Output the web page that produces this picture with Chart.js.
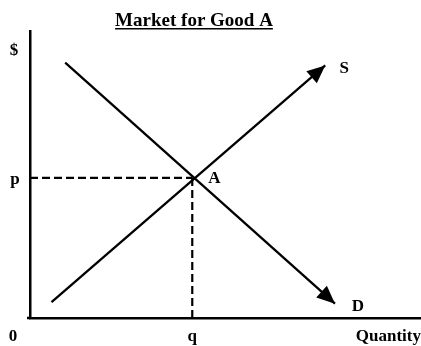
<!DOCTYPE html>
<html>
<head>
<meta charset="utf-8">
<script src="https://cdn.jsdelivr.net/npm/chart.js@4/dist/chart.umd.min.js"></script>
<style>
  html, body { margin: 0; padding: 0; background: #fff; }
  #wrap { width: 421px; height: 346px; position: relative; }
</style>
</head>
<body>
<div id="wrap"><canvas id="c" width="421" height="346"></canvas></div>
<script>
// ---- data (quantity on x, price on y; arbitrary units 0..10) ----
const titleText = 'Market for Good A';
const supplyQ = [0.55, 7.55];
const supplyP = [0.55, 8.8];
const demandQ = [0.9, 7.8];
const demandP = [8.9, 0.5];
const eqQ = [4.15];
const eqP = [4.88];
const axisLabels = { price: '$', quantity: 'Quantity', origin: '0', eqPrice: 'p', eqQuantity: 'q', eqPoint: 'A', supply: 'S', demand: 'D' };

const FONT = 'bold 17px "Liberation Serif", "Times New Roman", serif';

function pts(xs, ys) { return xs.map((v, i) => ({ x: v, y: ys[i] })); }

function drawArrow(ctx, x1, y1, x2, y2) {
  const dx = x2 - x1, dy = y2 - y1, len = Math.hypot(dx, dy);
  const ux = dx / len, uy = dy / len;
  const L = 18, W = 8;
  const bx = x2 - ux * L, by = y2 - uy * L;
  ctx.beginPath();
  ctx.moveTo(x2, y2);
  ctx.lineTo(bx - uy * W, by + ux * W);
  ctx.lineTo(bx + uy * W, by - ux * W);
  ctx.closePath();
  ctx.fillStyle = '#000';
  ctx.fill();
}

const econPlugin = {
  id: 'econ',
  afterDatasetsDraw(chart) {
    const { ctx, chartArea: a, scales: { x, y } } = chart;
    ctx.save();
    // arrowheads
    drawArrow(ctx, x.getPixelForValue(supplyQ[0]), y.getPixelForValue(supplyP[0]),
                   x.getPixelForValue(supplyQ[1]), y.getPixelForValue(supplyP[1]));
    drawArrow(ctx, x.getPixelForValue(demandQ[0]), y.getPixelForValue(demandP[0]),
                   x.getPixelForValue(demandQ[1]), y.getPixelForValue(demandP[1]));

    // x axis extends a little left of the y axis
    ctx.fillRect(a.left - 3, a.bottom - 1.25, 3, 2.5);

    ctx.fillStyle = '#000';
    ctx.font = FONT;
    ctx.textBaseline = 'middle';
    ctx.textAlign = 'center';
    const ex = x.getPixelForValue(eqQ[0]), ey = y.getPixelForValue(eqP[0]);
    ctx.fillText(axisLabels.price, a.left - 16, a.top + 20);
    ctx.fillText(axisLabels.eqPrice, a.left - 15, ey + 2);
    ctx.fillText(axisLabels.eqPoint, ex + 22, ey + 1);
    ctx.fillText(axisLabels.supply, x.getPixelForValue(supplyQ[1]) + 19, y.getPixelForValue(supplyP[1]) + 3);
    ctx.fillText(axisLabels.demand, x.getPixelForValue(demandQ[1]) + 23, y.getPixelForValue(demandP[1]) + 3);
    ctx.fillText(axisLabels.origin, a.left - 17, a.bottom + 19);
    ctx.fillText(axisLabels.eqQuantity, ex, a.bottom + 19);
    ctx.textAlign = 'right';
    ctx.fillText(axisLabels.quantity, a.right, a.bottom + 19);

    // title with underline
    ctx.font = 'bold 19px "Liberation Serif", "Times New Roman", serif';
    ctx.textAlign = 'center';
    ctx.textBaseline = 'alphabetic';
    const tx = 194, ty = 26;
    ctx.fillText(titleText, tx, ty);
    const w = ctx.measureText(titleText).width;
    ctx.fillRect(tx - w / 2, ty + 2, w, 1.5);
    ctx.restore();
  }
};

const hiddenAxis = {
  type: 'linear', min: 0, max: 10,
  grid: { display: false, drawTicks: false },
  ticks: { display: false },
  border: { display: true, color: '#000', width: 2.5 },
};

new Chart(document.getElementById('c'), {
  type: 'scatter',
  data: {
    datasets: [
      { data: pts(supplyQ, supplyP), showLine: true, borderColor: '#000', borderWidth: 2.3, pointRadius: 0 },
      { data: pts(demandQ, demandP), showLine: true, borderColor: '#000', borderWidth: 2.3, pointRadius: 0 },
      { data: [{ x: 0, y: eqP[0] }, { x: eqQ[0], y: eqP[0] }], showLine: true, borderColor: '#000', borderWidth: 2.2, borderDash: [8, 4], pointRadius: 0 },
      { data: [{ x: eqQ[0], y: eqP[0] }, { x: eqQ[0], y: 0 }], showLine: true, borderColor: '#000', borderWidth: 2.2, borderDash: [8, 4], pointRadius: 0 },
    ]
  },
  options: {
    responsive: false,
    devicePixelRatio: 1,
    animation: false,
    layout: { padding: { left: 30, top: 31, right: 0, bottom: 28 } },
    plugins: { legend: { display: false }, tooltip: { enabled: false }, title: { display: false } },
    scales: {
      x: Object.assign({}, hiddenAxis, { afterFit: s => { s.height = 0; } }),
      y: Object.assign({}, hiddenAxis, { afterFit: s => { s.width = 0; } }),
    }
  },
  plugins: [econPlugin]
});
</script>
</body>
</html>
